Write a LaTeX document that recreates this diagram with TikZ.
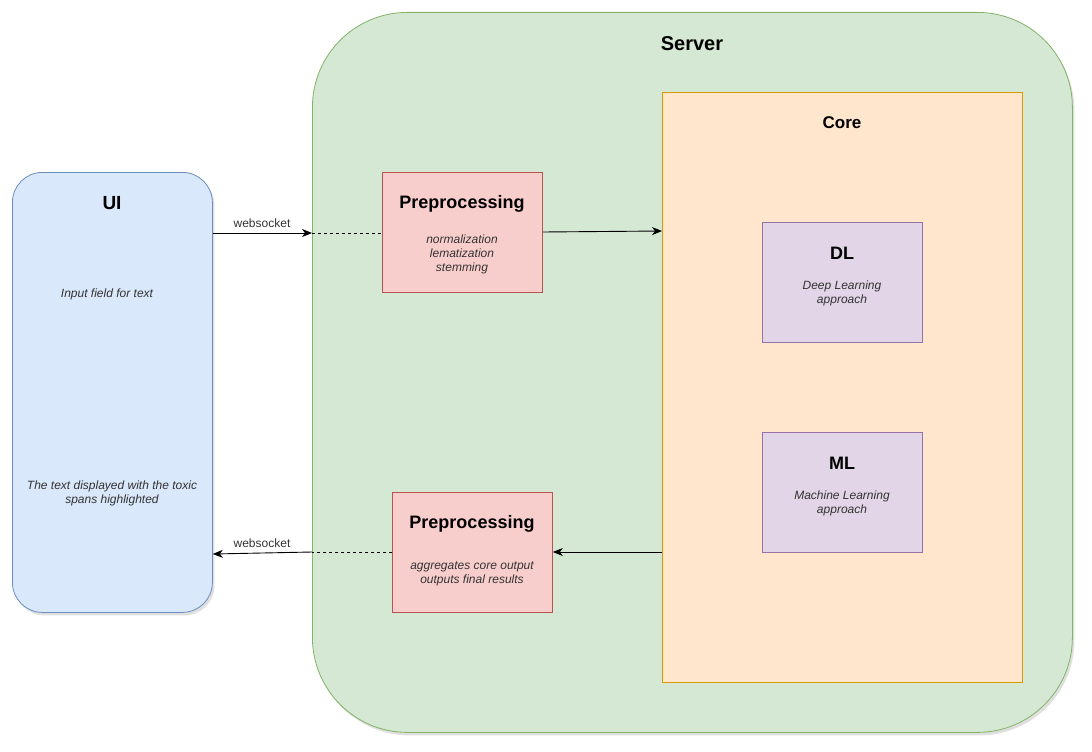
\documentclass[tikz,border=0pt]{standalone}
\usepackage{fontspec}
\setmainfont{Liberation Sans}
\usetikzlibrary{arrows.meta,shadows,positioning}
\definecolor{uifill}{HTML}{DAE8FC}
\definecolor{uiline}{HTML}{6C8EBF}
\definecolor{srvfill}{HTML}{D5E8D4}
\definecolor{srvline}{HTML}{82B366}
\definecolor{corefill}{HTML}{FFE6CC}
\definecolor{coreline}{HTML}{D79B00}
\definecolor{ppfill}{HTML}{F8CECC}
\definecolor{ppline}{HTML}{B85450}
\definecolor{mlfill}{HTML}{E1D5E7}
\definecolor{mlline}{HTML}{9673A6}
\definecolor{subtext}{HTML}{333333}
\tikzset{
  box/.style={draw, line width=0.8pt, inner sep=0pt, anchor=north west},
  boxshadow/.style={drop shadow={opacity=0.25, shadow xshift=2pt, shadow yshift=-3pt}},
  title/.style={font=\bfseries\fontsize{#1}{#1}\selectfont, text=black},
  sub/.style={font=\itshape\fontsize{12}{14}\selectfont, text=subtext, align=center},
  conn/.style={line width=0.9pt, -{Stealth[length=10pt,width=8pt,inset=3pt]}},
  dashconn/.style={line width=0.9pt, dashed, dash pattern=on 3pt off 3pt},
  lbl/.style={font=\fontsize{12}{14}\selectfont, text=subtext},
}
\begin{document}
\begin{tikzpicture}[x=1pt,y=-1pt]
\useasboundingbox (0,0) rectangle (1092,752);
% Server
\node[box, boxshadow, fill=srvfill, draw=srvline, rounded corners=95pt, minimum width=760pt, minimum height=720pt] (server) at (312,12) {};
\node[title=20] (servert) at (692,44) {Server};
% UI
\node[box, boxshadow, fill=uifill, draw=uiline, rounded corners=30pt, minimum width=200pt, minimum height=440pt] (ui) at (12,172) {};
\node[title=19] (uit) at (112,203) {UI};
\node[sub] (uitext1) at (107,294) {Input field for text};
\node[sub] (uitext2) at (112,493) {The text displayed with the toxic\\spans highlighted};
% Core
\node[box, fill=corefill, draw=coreline, minimum width=360pt, minimum height=590pt] (core) at (662,92) {};
\node[title=17] (coret) at (842,123) {Core};
% DL
\node[box, fill=mlfill, draw=mlline, minimum width=160pt, minimum height=120pt] (dl) at (762,222) {};
\node[title=18] (dlt) at (842,253) {DL};
\node[sub] (dls) at (842,293.5) {Deep Learning\\approach};
% ML
\node[box, fill=mlfill, draw=mlline, minimum width=160pt, minimum height=120pt] (ml) at (762,432) {};
\node[title=18] (mlt) at (842,463) {ML};
\node[sub] (mls) at (842,503.5) {Machine Learning\\approach};
% Preprocessing 1
\node[box, fill=ppfill, draw=ppline, minimum width=160pt, minimum height=120pt] (pp1) at (382,172) {};
\node[title=18] (pp1t) at (462,204) {Preprocessing};
\node[sub] (pp1s) at (462,254.5) {normalization\\lematization\\stemming};
% Preprocessing 2
\node[box, fill=ppfill, draw=ppline, minimum width=160pt, minimum height=120pt] (pp2) at (392,492) {};
\node[title=18] (pp2t) at (472,524) {Preprocessing};
\node[sub] (pp2s) at (472,573.5) {aggregates core output\\outputs final results};
% connectors
\coordinate (in1) at (312,233);
\coordinate (in2) at (312,552);
\draw[conn] (ui.east |- in1) -- (in1);
\draw[dashconn] (in1) -- (pp1.west |- in1);
\node[lbl] (ws1) at (262,223) {websocket};
\draw[conn] (pp1.east |- 0,232) -- (core.west |- 0,231);
\draw[conn] (core.west |- 0,552) -- (pp2.east |- 0,552);
\draw[dashconn] (pp2.west |- in2) -- (in2);
\draw[conn] (in2) -- (ui.east |- 0,554);
\node[lbl] (ws2) at (262,543) {websocket};
\end{tikzpicture}
\end{document}
